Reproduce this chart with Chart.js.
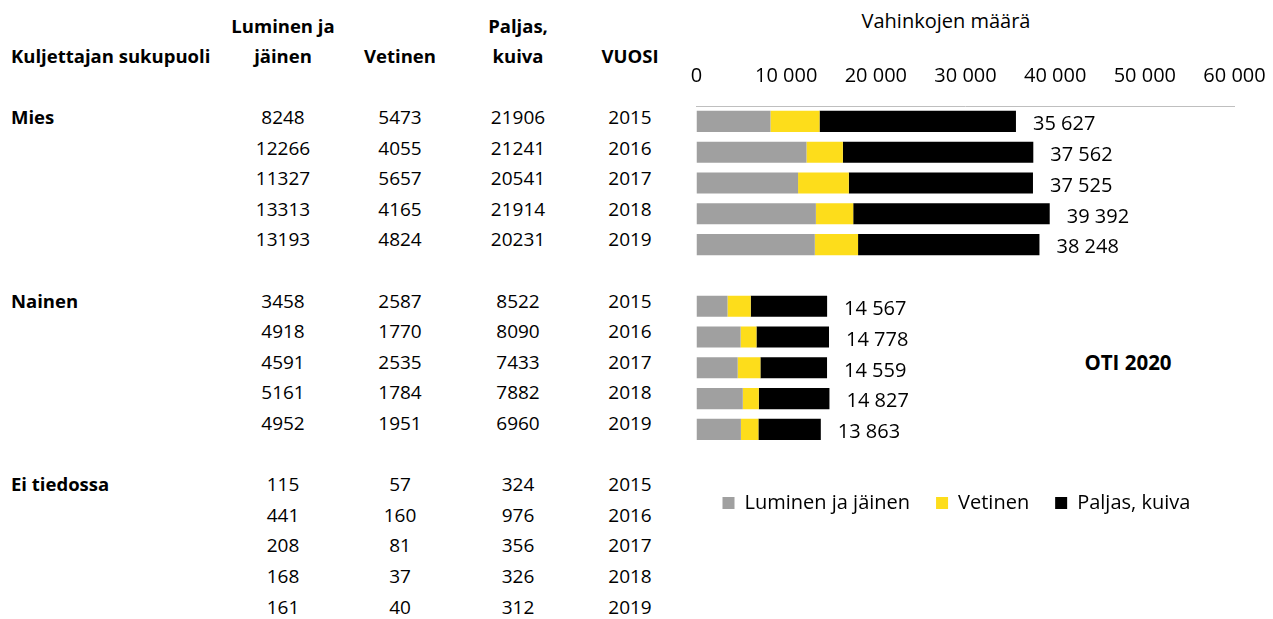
<!DOCTYPE html>
<html lang="fi">
<head>
<meta charset="utf-8">
<script src="https://cdn.jsdelivr.net/npm/chart.js@4.4.1/dist/chart.umd.min.js"></script>
<style>
  html, body { margin: 0; padding: 0; background: #fff; }
  body { width: 1273px; height: 619px; position: relative; overflow: hidden;
         font-family: "Open Sans", "Noto Sans", sans-serif; color: #000; }
  .t { position: absolute; white-space: nowrap; line-height: 28px; transform: translate(-50%, -50%); }
  .l { transform: translate(0, -50%); }
  .b { font-weight: 700; font-size: 18.5px; }
  .n { font-size: 19px; }
  #wrap { position: absolute; left: 680px; top: 0; }
</style>
</head>
<body>
<div id="table"></div>
<div class="t" style="left:946px; top:21px; font-size:20px;">Vahinkojen määrä</div>
<div class="t b" style="left:1128px; top:362px; font-size:20.5px;">OTI 2020</div>
<div id="wrap"><canvas id="chart" width="593" height="523"></canvas></div>
<script>
// --- data ---
const sukupuoli = ['Mies', 'Nainen', 'Ei tiedossa'];
const vuodet = [2015, 2016, 2017, 2018, 2019];
const sarakkeet = [['Luminen ja', 'jäinen'], ['', 'Vetinen'], ['Paljas,', 'kuiva'], ['', 'VUOSI']];
const sarjat = ['Luminen ja jäinen', 'Vetinen', 'Paljas, kuiva'];

// Mies 2015-2019, Nainen 2015-2019, Ei tiedossa 2015-2019
const luminen = [8248, 12266, 11327, 13313, 13193, 3458, 4918, 4591, 5161, 4952, 115, 441, 208, 168, 161];
const vetinen = [5473, 4055, 5657, 4165, 4824, 2587, 1770, 2535, 1784, 1951, 57, 160, 81, 37, 40];
const paljas = [21906, 21241, 20541, 21914, 20231, 8522, 8090, 7433, 7882, 6960, 324, 976, 356, 326, 312];

const xTicks = [0, 10000, 20000, 30000, 40000, 50000, 60000];

const FONT = '"Open Sans", "Noto Sans", sans-serif';

function fmt(v) {
    return String(v).replace(/\B(?=(\d{3})+(?!\d))/g, ' ');
}

// --- taulukko vasemmalle ---
const colX = [283, 400, 518, 630];
const rowTop = 117, rowStep = 30.6;
let html = '';
html += `<div class="t l b" style="left:11px; top:56px;">Kuljettajan sukupuoli</div>`;
sarakkeet.forEach((h, c) => {
    if (h[0]) html += `<div class="t b" style="left:${colX[c]}px; top:26px;">${h[0]}</div>`;
    html += `<div class="t b" style="left:${colX[c]}px; top:56px;">${h[1]}</div>`;
});
sukupuoli.forEach((s, g) => {
    vuodet.forEach((v, j) => {
        const i = g * 5 + j;
        const y = rowTop + rowStep * (g * 6 + j);
        if (j === 0) html += `<div class="t l b" style="left:11px; top:${y}px;">${s}</div>`;
        const vals = [luminen[i], vetinen[i], paljas[i], v];
        vals.forEach((val, c) => {
            html += `<div class="t n" style="left:${colX[c]}px; top:${y}px;">${val}</div>`;
        });
    });
});
document.getElementById('table').innerHTML = html;

// --- kaavio: Mies + tyhjä rivi + Nainen ---
function chartSeries(arr) {
    return [...arr.slice(0, 5), null, ...arr.slice(5, 10)];
}
const chartLabels = [...vuodet.map(v => 'Mies ' + v), '', ...vuodet.map(v => 'Nainen ' + v)];
const totals = chartSeries(luminen.map((v, i) => v + vetinen[i] + paljas[i]));

const totalLabels = {
    id: 'totalLabels',
    afterDatasetsDraw(chart) {
        const ctx = chart.ctx;
        const meta = chart.getDatasetMeta(2);
        ctx.save();
        ctx.font = '20px ' + FONT;
        ctx.fillStyle = '#000';
        ctx.textAlign = 'left';
        ctx.textBaseline = 'middle';
        meta.data.forEach((bar, i) => {
            if (totals[i] == null) return;
            ctx.fillText(fmt(totals[i]), bar.x + 17, bar.y + 3);
        });
        ctx.restore();
    }
};

new Chart(document.getElementById('chart'), {
    type: 'bar',
    data: {
        labels: chartLabels,
        datasets: [
            { label: sarjat[0], data: chartSeries(luminen), backgroundColor: '#a0a0a0' },
            { label: sarjat[1], data: chartSeries(vetinen), backgroundColor: '#fddd1b' },
            { label: sarjat[2], data: chartSeries(paljas), backgroundColor: '#000000' }
        ]
    },
    options: {
        indexAxis: 'y',
        responsive: false,
        animation: false,
        layout: { padding: { top: 46, left: 16.5, right: 38.5, bottom: 0 } },
        datasets: { bar: { barPercentage: 0.685, categoryPercentage: 1, borderWidth: 0 } },
        scales: {
            x: {
                position: 'top',
                stacked: true,
                min: xTicks[0],
                max: xTicks[xTicks.length - 1],
                afterBuildTicks: (scale) => { scale.ticks = xTicks.map(v => ({ value: v })); },
                // reunojen tilavaraus hoidetaan layout-paddingilla
                afterFit: (scale) => { scale.paddingLeft = 0; scale.paddingRight = 0; },
                ticks: {
                    padding: 18,
                    color: '#000',
                    maxRotation: 0,
                    autoSkip: false,
                    font: { size: 20, family: FONT },
                    callback: v => fmt(v)
                },
                grid: { display: false, drawTicks: false },
                border: { display: true, color: '#bfbfbf', width: 1 }
            },
            y: { stacked: true, display: false }
        },
        plugins: {
            legend: {
                position: 'bottom',
                align: 'start',
                fullSize: false,
                title: { display: true, text: '', padding: { top: 10.2, bottom: 0 }, font: { size: 10 } },
                labels: {
                    boxWidth: 12,
                    boxHeight: 12,
                    padding: 26,
                    color: '#000',
                    font: { size: 20, family: FONT }
                }
            },
            tooltip: { enabled: false }
        }
    },
    plugins: [totalLabels]
});
</script>
</body>
</html>
